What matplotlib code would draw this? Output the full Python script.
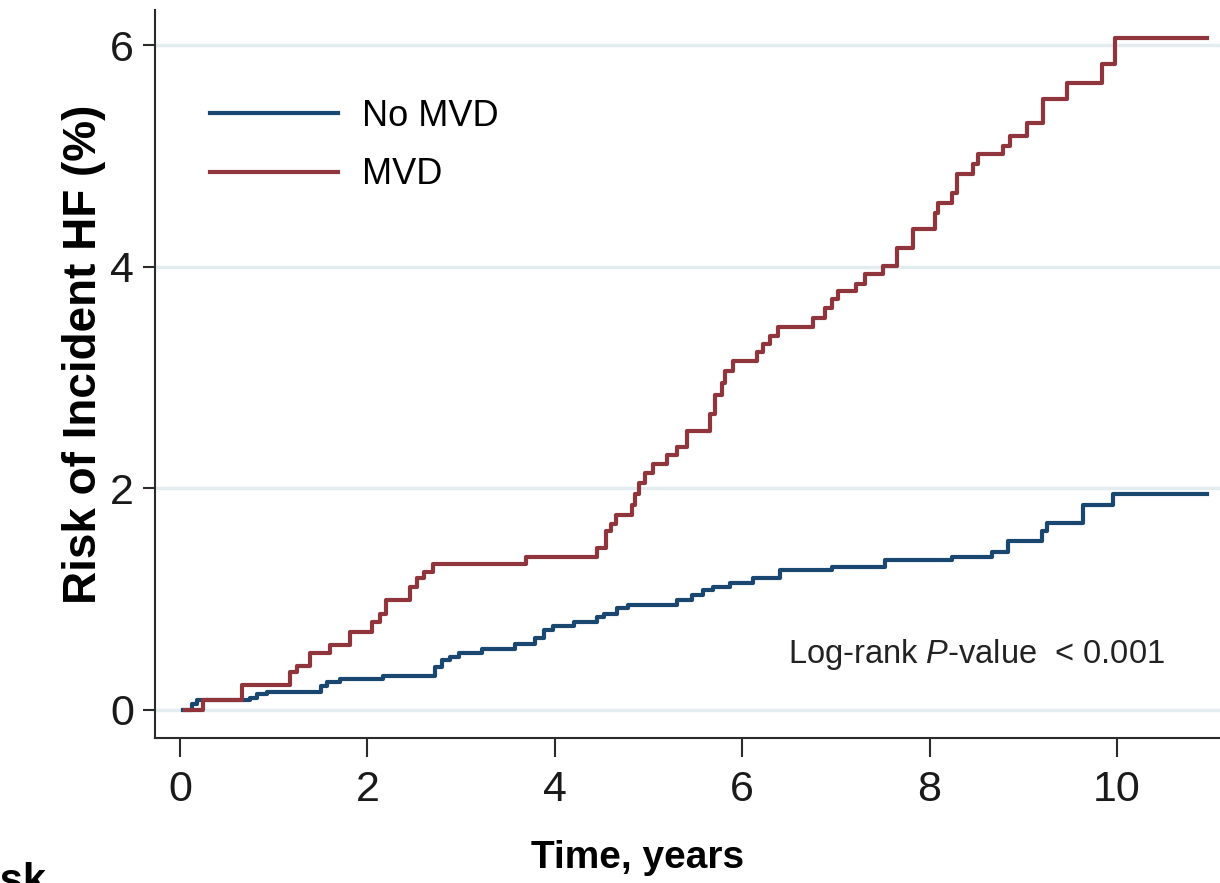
import matplotlib
matplotlib.use("Agg")
import matplotlib.pyplot as plt

# cumulative incidence (%) at each event time, years
t_no_mvd = [0.03, 0.13, 0.18, 0.75, 0.82, 0.93, 1.51, 1.57, 1.71, 2.17, 2.72, 2.80, 2.88,
            2.98, 3.22, 3.58, 3.79, 3.88, 3.98, 4.20, 4.45, 4.52, 4.66, 4.78, 5.30, 5.46,
            5.58, 5.69, 5.87, 6.12, 6.40, 6.96, 7.52, 8.24, 8.67, 8.84, 9.20, 9.25, 9.64,
            9.96, 10.96]
risk_no_mvd = [0.00, 0.05, 0.09, 0.11, 0.14, 0.16, 0.22, 0.25, 0.28, 0.31, 0.39, 0.45, 0.48,
               0.51, 0.55, 0.60, 0.65, 0.72, 0.76, 0.79, 0.84, 0.87, 0.92, 0.95, 0.99, 1.04,
               1.08, 1.11, 1.15, 1.19, 1.26, 1.29, 1.35, 1.38, 1.43, 1.53, 1.62, 1.69, 1.85,
               1.95, 1.95]

t_mvd = [0.05, 0.25, 0.66, 1.17, 1.25, 1.39, 1.60, 1.81, 2.05, 2.13, 2.20, 2.45, 2.53, 2.60,
         2.70, 3.69, 4.45, 4.55, 4.60, 4.65, 4.82, 4.86, 4.90, 4.96, 5.05, 5.20, 5.30, 5.41,
         5.66, 5.71, 5.78, 5.82, 5.90, 6.16, 6.22, 6.30, 6.38, 6.76, 6.88, 6.96, 7.02, 7.22,
         7.31, 7.50, 7.65, 7.82, 8.06, 8.09, 8.24, 8.29, 8.46, 8.52, 8.78, 8.86, 9.04, 9.21,
         9.47, 9.84, 9.98, 10.96]
risk_mvd = [0.00, 0.09, 0.23, 0.34, 0.40, 0.51, 0.59, 0.70, 0.79, 0.87, 0.99, 1.11, 1.19, 1.25,
            1.32, 1.38, 1.46, 1.62, 1.68, 1.76, 1.85, 1.95, 2.05, 2.14, 2.22, 2.30, 2.37, 2.52,
            2.67, 2.84, 2.95, 3.06, 3.15, 3.23, 3.30, 3.38, 3.46, 3.54, 3.63, 3.71, 3.78, 3.85,
            3.94, 4.01, 4.17, 4.34, 4.49, 4.58, 4.67, 4.84, 4.93, 5.02, 5.09, 5.18, 5.30, 5.52,
            5.66, 5.83, 6.07, 6.07]

xticks = [0, 2, 4, 6, 8, 10]
yticks = [0, 2, 4, 6]

plt.rcParams['font.family'] = ['Liberation Sans', 'DejaVu Sans']
plt.rcParams['mathtext.fontset'] = 'custom'
plt.rcParams['mathtext.rm'] = 'Liberation Sans'
plt.rcParams['mathtext.it'] = 'Liberation Sans:italic'

navy = '#1a476f'
maroon = '#90353b'

fig = plt.figure(figsize=(12.2, 8.83), dpi=100)
ax = fig.add_axes([155 / 1220, 1 - 738 / 883, 1 - 155 / 1220, (738 - 10) / 883])

ax.step(t_no_mvd, risk_no_mvd, where='post', color=navy, lw=3.0, label='No MVD')
ax.step(t_mvd, risk_mvd, where='post', color=maroon, lw=3.0, label='MVD')

ax.set_xlim(-0.267, 11.1)
ax.set_ylim(-0.253, 6.32)
ax.set_xticks(xticks)
ax.set_yticks(yticks)
ax.yaxis.grid(True, color='#e3edf0', lw=2.5)
ax.set_axisbelow(True)

for s in ['top', 'right']:
    ax.spines[s].set_visible(False)
for s in ['left', 'bottom']:
    ax.spines[s].set_color('#2b2b2b')
    ax.spines[s].set_linewidth(1.5)

ax.tick_params(axis='x', length=14, width=1.5, pad=9, labelsize=31, color='#2b2b2b',
               labelcolor='#1a1a1a')
ax.tick_params(axis='y', length=9, width=1.5, pad=6, labelsize=31, color='#2b2b2b',
               labelcolor='#1a1a1a')

ax.set_xlabel('Time, years', fontsize=28, fontweight='bold')
ax.xaxis.set_label_coords((638 - 155) / 1065, (738 - 840) / 728)
ax.set_ylabel('Risk of Incident HF (%)', fontsize=33, fontweight='bold')
ax.yaxis.set_label_coords((106 - 155) / 1065, (738 - 354) / 728)

ax.legend(loc='upper left', bbox_to_anchor=(210 / 1220, 1 - 99 / 883),
          bbox_transform=fig.transFigure, frameon=False, fontsize=26,
          handlelength=3.55, handletextpad=0.65, labelspacing=0.65,
          borderpad=0, borderaxespad=0)

fig.text(976 / 1220, 1 - 655 / 883, 'Log-rank $P$-value  < 0.001', fontsize=23.5,
         ha='center', va='center', color='#222222')

# number-at-risk table heading below the plot
fig.text(46 / 1220, 1 - 893 / 883, 'Number at risk', fontsize=30, fontweight='bold',
         ha='right', va='baseline')

fig.savefig('out.png', dpi=100)
